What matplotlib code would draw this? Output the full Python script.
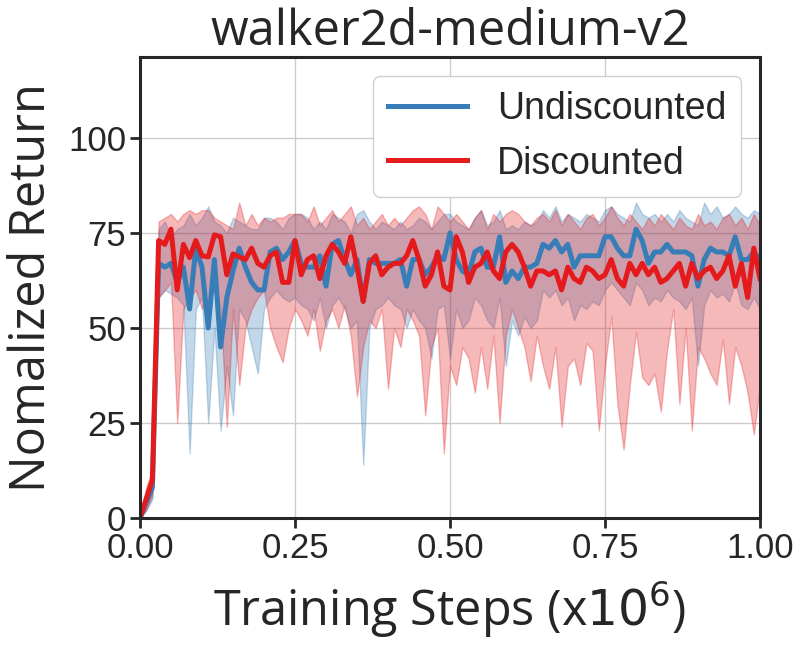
import numpy as np
import matplotlib
matplotlib.use("Agg")
import matplotlib.pyplot as plt

# training steps (x1e6), one point every 0.01
steps = np.linspace(0.0, 1.0, 101)

undisc_mean = [
    0, 4, 8,
    67, 66, 67, 62, 66, 55, 71, 66, 50, 68, 45, 58, 65, 71, 66, 62, 60, 60, 70, 71, 68, 70, 73,
    67, 66, 66, 69, 61, 72, 73, 68, 64, 68, 57, 68, 67, 67, 67, 67, 68, 61, 68, 68, 64, 66, 69, 68, 75,
    68, 65, 64, 70, 71, 66, 66, 74, 62, 65, 63, 66, 66, 67, 72, 71, 73, 70, 72, 66, 69, 69, 69, 69, 74,
    74, 71, 69, 69, 76, 73, 67, 70, 70, 72, 70, 70, 70, 69, 61, 68, 71, 70, 70, 69, 74, 68, 68, 70, 68,
]
undisc_lo = [
    0, 2, 5,
    58, 60, 59, 58, 56, 17, 55, 58, 25, 50, 23, 40, 27, 55, 52, 45, 38, 55, 58, 60, 58, 57, 58,
    56, 55, 52, 58, 50, 56, 58, 55, 50, 52, 14, 50, 55, 56, 58, 56, 55, 50, 55, 52, 50, 42, 55, 56, 42,
    55, 50, 52, 58, 56, 52, 50, 58, 40, 52, 48, 53, 50, 52, 60, 58, 60, 56, 58, 52, 56, 55, 57, 56, 60,
    62, 60, 58, 56, 62, 60, 56, 58, 57, 60, 58, 57, 55, 58, 40, 56, 60, 58, 59, 57, 62, 56, 55, 58, 55,
]
undisc_hi = [
    1, 7, 11,
    76, 78, 74, 76, 77, 80, 77, 79, 82, 78, 77, 75, 79, 78, 77, 76, 76, 79, 79, 78, 76, 79, 80,
    80, 79, 76, 78, 76, 80, 79, 78, 75, 80, 81, 78, 76, 78, 77, 76, 78, 76, 77, 79, 78, 76, 78, 80, 80,
    78, 77, 76, 79, 81, 77, 78, 81, 76, 77, 76, 78, 77, 78, 81, 79, 82, 78, 80, 79, 78, 80, 79, 78, 81,
    82, 80, 79, 78, 83, 80, 79, 80, 78, 80, 78, 81, 79, 78, 77, 83, 80, 82, 79, 80, 82, 80, 79, 81, 80,
]

disc_mean = [
    0, 5, 10,
    73, 72, 76, 60, 72, 68.5, 73, 69, 68.7, 74.5, 74, 64, 69.5, 68.7, 68, 71, 67, 66, 69, 70, 62, 62, 73,
    64, 68, 69, 63, 69, 72, 70, 67, 74, 66, 57, 67, 69, 64, 66, 67, 67, 69, 73, 68, 61, 64, 70, 61, 60,
    74, 70, 62, 66, 67, 70, 65, 63, 70, 72, 70, 66, 61, 65, 65, 64, 65, 60, 66, 63, 62, 66, 65, 63, 64,
    68, 63, 61, 67, 64, 67, 64, 66, 62, 63, 65, 67, 61, 67, 63, 65, 66, 63, 65, 69, 61, 67, 58, 71, 63,
]
disc_lo = [
    0, 2, 6,
    58, 60, 62, 25, 55, 58, 60, 55, 58, 60, 55, 24, 55, 35, 50, 55, 58, 60, 50, 45, 41, 50, 55,
    52, 48, 55, 44, 52, 55, 50, 56, 48, 32, 45, 52, 50, 55, 34, 50, 45, 55, 52, 48, 27, 45, 50, 17, 40,
    35, 45, 42, 33, 45, 34, 48, 25, 48, 55, 50, 45, 36, 48, 40, 34, 45, 24, 40, 42, 35, 46, 44, 23, 40,
    53, 30, 18, 35, 49, 37, 35, 38, 28, 44, 55, 30, 50, 23, 45, 42, 38, 35, 47, 30, 45, 40, 33, 22, 35,
]
disc_hi = [
    1, 8, 13,
    78, 79, 80, 78, 80, 81, 80, 81, 81, 79, 78, 77, 76, 83, 77, 80, 77, 79, 78, 79, 79, 80, 80,
    80, 78, 82, 77, 79, 81, 78, 80, 82, 77, 79, 76, 78, 80, 77, 79, 77, 79, 81, 82, 80, 76, 82, 80, 78,
    80, 78, 76, 79, 81, 76, 80, 78, 80, 81, 80, 78, 77, 79, 80, 78, 81, 77, 80, 78, 76, 79, 80, 77, 79,
    82, 79, 77, 80, 78, 76, 79, 77, 80, 78, 76, 79, 77, 76, 80, 77, 78, 76, 79, 80, 77, 79, 76, 80, 77,
]

BLUE = "#377eb8"
RED = "#e41a1c"
DARK = "#262626"

plt.rcParams["font.family"] = ["Liberation Sans", "DejaVu Sans"]
plt.rcParams["text.color"] = DARK
plt.rcParams["axes.labelcolor"] = DARK
plt.rcParams["xtick.color"] = DARK
plt.rcParams["ytick.color"] = DARK

fig = plt.figure(figsize=(8.06, 6.47), dpi=100)
ax = fig.add_axes([140 / 806, 1 - 518 / 647, 620 / 806, (518 - 57) / 647])

ax.fill_between(steps, undisc_lo, undisc_hi, color=BLUE, alpha=0.3, linewidth=1)
ax.plot(steps, undisc_mean, color=BLUE, lw=3.6, label="Undiscounted")
ax.fill_between(steps, disc_lo, disc_hi, color=RED, alpha=0.3, linewidth=1)
ax.plot(steps, disc_mean, color=RED, lw=3.6, label="Discounted")

ax.set_xlim(0, 1.0)
ax.set_ylim(0, 121.3)
ax.set_xticks([0, 0.25, 0.5, 0.75, 1.0])
ax.set_xticklabels(["0.00", "0.25", "0.50", "0.75", "1.00"])
ax.set_yticks([0, 25, 50, 75, 100])

ax.grid(True, color="#cccccc", linewidth=1)
ax.set_axisbelow(True)
for sp in ax.spines.values():
    sp.set_linewidth(2.2)
    sp.set_color(DARK)
ax.tick_params(axis="both", labelsize=25, length=7, width=2, pad=3)

label_font = ["Open Sans", "DejaVu Sans"]
ax.set_title("walker2d-medium-v2", fontsize=35, family=label_font, pad=6)
ax.set_xlabel("Training Steps (x$10^6$)", fontsize=35, family=label_font, labelpad=10)
ax.set_ylabel("Nomalized Return", fontsize=35, family=label_font, labelpad=8)

leg = ax.legend(loc="upper right", fontsize=27, fancybox=True, framealpha=1,
                handlelength=2.1)
leg.get_frame().set_edgecolor("#d0d0d0")
for line in leg.get_lines():
    line.set_linewidth(3.6)

fig.savefig("out.png", dpi=100)
